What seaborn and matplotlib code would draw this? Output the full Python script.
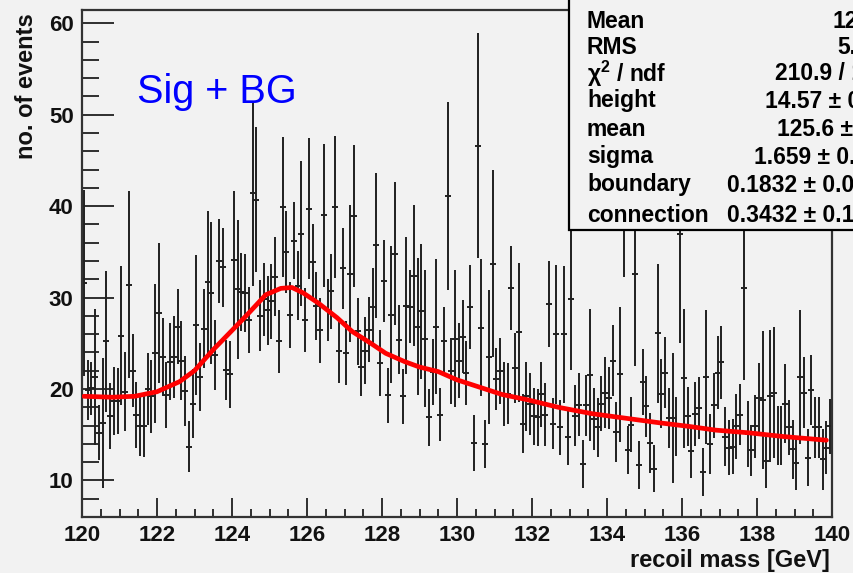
import numpy as np
import pandas as pd
import matplotlib
matplotlib.use("Agg")
import matplotlib.pyplot as plt
import seaborn as sns
from matplotlib.patches import Rectangle
from matplotlib.ticker import MultipleLocator

# Recoil-mass histogram: 200 bins of 0.1 GeV between 120 and 140 GeV
mass_lo, mass_hi, n_bins = 120.0, 140.0, 200

counts = [
    31.6, 19.9, 20.1, 21.3, 15.2, 16.3, 25.2, 17.0, 18.7, 18.7,
    25.8, 19.7, 31.4, 22.0, 17.2, 16.0, 16.0, 20.0, 19.2, 23.9,
    28.3, 23.5, 19.3, 23.0, 23.5, 26.8, 23.1, 19.8, 13.7, 18.4,
    27.0, 21.3, 26.6, 31.7, 30.5, 23.7, 34.0, 33.3, 22.1, 21.6,
    34.1, 30.9, 30.6, 30.5, 27.5, 41.4, 40.7, 28.0, 29.8, 28.6,
    29.6, 32.3, 25.2, 39.9, 35.0, 28.1, 36.2, 31.3, 37.0, 27.5,
    39.7, 33.9, 29.1, 26.4, 39.0, 28.6, 30.7, 39.9, 24.2, 33.2,
    23.9, 32.6, 38.9, 26.3, 22.4, 24.2, 26.5, 29.0, 35.7, 22.8,
    31.8, 19.3, 28.1, 34.8, 25.4, 19.2, 29.1, 29.0, 32.4, 26.8,
    28.5, 25.5, 16.9, 21.9, 26.8, 17.2, 25.2, 41.1, 22.0, 25.5,
    23.1, 25.7, 21.8, 29.0, 14.1, 46.6, 26.7, 14.0, 23.5, 33.7,
    21.1, 22.0, 19.5, 19.5, 31.0, 22.3, 26.2, 16.2, 19.2, 18.4,
    17.0, 16.9, 19.4, 17.2, 29.3, 16.2, 26.0, 15.8, 26.0, 14.7,
    29.8, 17.1, 18.3, 11.8, 18.2, 21.5, 16.7, 15.8, 18.4, 19.6,
    19.0, 23.1, 15.3, 21.6, 40.0, 13.3, 16.1, 32.6, 11.7, 20.8,
    18.1, 14.1, 11.3, 26.1, 19.5, 21.8, 16.8, 16.8, 15.9, 37.0,
    21.2, 17.0, 13.2, 17.3, 17.9, 10.9, 21.3, 14.0, 18.2, 21.8,
    22.9, 14.8, 13.6, 13.7, 15.9, 17.2, 31.0, 15.1, 13.3, 15.9,
    19.0, 18.8, 12.1, 19.2, 19.6, 14.9, 14.9, 18.4, 15.8, 13.4,
    11.9, 21.3, 19.6, 12.5, 19.9, 15.8, 15.8, 12.3, 13.6, 15.9,
]

errors = [
    10.2, 3.3, 2.9, 7.4, 3.0, 7.1, 7.7, 3.6, 3.7, 3.6,
    7.6, 4.3, 10.2, 4.0, 3.6, 3.3, 3.4, 3.9, 4.0, 7.6,
    7.7, 4.3, 3.6, 4.2, 4.5, 4.1, 4.3, 3.8, 2.8, 3.8,
    7.7, 3.7, 4.3, 7.8, 7.8, 3.8, 4.6, 4.3, 3.3, 3.7,
    7.6, 7.6, 4.3, 4.3, 3.6, 10.1, 7.9, 3.9, 4.0, 3.8,
    4.1, 4.3, 3.4, 7.7, 4.5, 3.6, 4.2, 3.8, 7.9, 3.5,
    7.7, 4.1, 3.7, 3.6, 7.8, 3.4, 4.1, 7.8, 3.5, 4.4,
    3.5, 7.5, 7.8, 3.7, 3.2, 3.7, 3.6, 4.2, 7.9, 3.6,
    4.5, 3.0, 7.5, 7.8, 3.8, 3.0, 7.5, 4.0, 7.7, 7.5,
    7.4, 7.5, 3.1, 3.6, 7.4, 2.9, 3.8, 10.3, 3.6, 7.5,
    4.1, 4.0, 3.5, 4.6, 3.1, 12.3, 7.5, 2.6, 7.3, 10.2,
    3.4, 3.6, 3.5, 3.3, 4.6, 3.8, 7.6, 3.2, 3.8, 3.4,
    3.1, 3.1, 3.6, 3.4, 4.7, 2.8, 7.6, 3.0, 7.5, 3.0,
    7.7, 3.3, 3.4, 2.6, 3.3, 7.2, 3.4, 3.2, 3.0, 3.9,
    3.4, 3.9, 3.3, 7.4, 7.7, 2.6, 3.0, 10.1, 2.6, 3.6,
    3.3, 3.3, 2.6, 7.6, 3.8, 3.9, 3.3, 7.1, 3.2, 12.0,
    7.6, 3.2, 2.9, 3.5, 3.4, 2.6, 7.3, 3.3, 3.6, 4.0,
    4.0, 3.2, 3.0, 3.0, 3.6, 3.3, 10.0, 3.6, 2.8, 3.4,
    3.8, 7.5, 2.9, 7.2, 7.2, 3.2, 3.2, 4.3, 3.0, 3.2,
    2.9, 7.3, 3.9, 3.1, 3.8, 3.3, 3.3, 3.3, 2.9, 3.0,
]

# Fitted signal + background curve
fit_mass = [120.05, 120.8, 121.4, 122.0, 122.6, 123.0, 123.5, 124.0, 124.4,
            124.9, 125.3, 125.6, 125.9, 126.3, 126.8, 127.2, 127.7, 128.1,
            128.6, 129.0, 129.5, 130.0, 130.6, 131.2, 131.9, 132.7, 133.6,
            134.5, 135.4, 136.2, 136.9, 137.8, 138.7, 139.85]
fit_value = [19.2, 19.1, 19.2, 19.7, 20.8, 22.0, 24.3, 26.4, 28.1,
             30.3, 31.0, 31.1, 30.5, 29.4, 27.8, 26.3, 25.0, 23.9,
             23.0, 22.4, 21.9, 21.0, 20.2, 19.4, 18.8, 18.0, 17.3,
             16.8, 16.3, 15.9, 15.5, 15.2, 14.8, 14.4]

stat_labels = ["Entries", "Mean", "RMS", "\u03c7$^{2}$ / ndf", "height",
               "mean", "sigma", "boundary", "connection"]
stat_values = ["4000", "125.8", "5.77", "210.9 / 197", "14.57 \u00b1 0.92",
               "125.6 \u00b1 0.1", "1.659 \u00b1 0.133", "0.1832 \u00b1 0.0534",
               "0.3432 \u00b1 0.1716"]

W, H = 854, 573
bg = "#f2f2f2"

sns.set_theme(style="ticks")
plt.rcParams["font.family"] = ["Liberation Sans", "DejaVu Sans"]
plt.rcParams["mathtext.fontset"] = "custom"
plt.rcParams["mathtext.rm"] = "Liberation Sans:bold"

fig = plt.figure(figsize=(W / 100, H / 100), dpi=100, facecolor=bg)
ax = fig.add_axes([82 / W, 1 - 517 / H, 750 / W, (517 - 9.5) / H])
ax.set_facecolor(bg)

edges = np.linspace(mass_lo, mass_hi, n_bins + 1)
centers = 0.5 * (edges[:-1] + edges[1:])
df = pd.DataFrame({"mass": centers, "events": counts, "err": errors})

ax.errorbar(df["mass"], df["events"], yerr=df["err"], fmt="none",
            ecolor="#202020", elinewidth=1.4, capsize=0, zorder=2)
ax.plot(df["mass"], df["events"], linestyle="none", marker="_",
        markersize=5, markeredgewidth=1.4, color="#202020", zorder=2)

fit_df = pd.DataFrame({"mass": fit_mass, "fit": fit_value})
sns.lineplot(data=fit_df, x="mass", y="fit", color="#ff0000", linewidth=3.4,
             estimator=None, sort=True, ax=ax, zorder=3)

ax.set_xlim(mass_lo, mass_hi)
ax.set_ylim(6.0, 61.5)
ax.set_xlabel("")
ax.set_ylabel("")
ax.xaxis.set_major_locator(MultipleLocator(2))
ax.xaxis.set_minor_locator(MultipleLocator(0.5))
ax.yaxis.set_major_locator(MultipleLocator(10))
ax.yaxis.set_minor_locator(MultipleLocator(2))
ax.tick_params(axis="both", which="both", direction="in", color="#202020",
               width=1.3, top=False, right=False)
ax.tick_params(axis="x", which="major", length=14, pad=6, labelsize=16)
ax.tick_params(axis="x", which="minor", length=6)
ax.tick_params(axis="y", which="major", length=23, pad=6, labelsize=16)
ax.tick_params(axis="y", which="minor", length=12)
for lab in ax.get_xticklabels() + ax.get_yticklabels():
    lab.set_fontweight("bold")
    lab.set_color("#111111")
for sp in ax.spines.values():
    sp.set_visible(True)
    sp.set_color("#333333")
    sp.set_linewidth(1.6)

fig.text(27 / W, 1 - 13 / H, "no. of events", rotation=90, ha="center",
         va="top", fontsize=17, fontweight="bold", color="#111111")
fig.text(830 / W, 1 - 561 / H, "recoil mass [GeV]", ha="right", va="center",
         fontsize=17, fontweight="bold", color="#111111")
fig.text(137 / W, 1 - 92 / H, "Sig + BG", ha="left", va="center",
         fontsize=28.5, color="#0000ff")

# Fit statistics box, running off the top-right corner
box = Rectangle((569 / W, 1 - 230 / H), 0.5, 0.6, transform=fig.transFigure,
                facecolor=bg, edgecolor="black", linewidth=1.6, zorder=5)
fig.add_artist(box)
row_y = [-10, 21, 48, 74, 101, 129, 157, 185, 216]
value_x = [800, 833, 837, 775, 765, 777, 754, 727, 727]
for lab, val, yy, vx in zip(stat_labels, stat_values, row_y, value_x):
    fig.text(587 / W, 1 - yy / H, lab, ha="left", va="center", fontsize=16.5,
             fontweight="bold", color="black", zorder=6)
    fig.text(vx / W, 1 - yy / H, val, ha="left", va="center", fontsize=16.5,
             fontweight="bold", color="black", zorder=6)

fig.savefig("out.png", dpi=100, facecolor=bg)
